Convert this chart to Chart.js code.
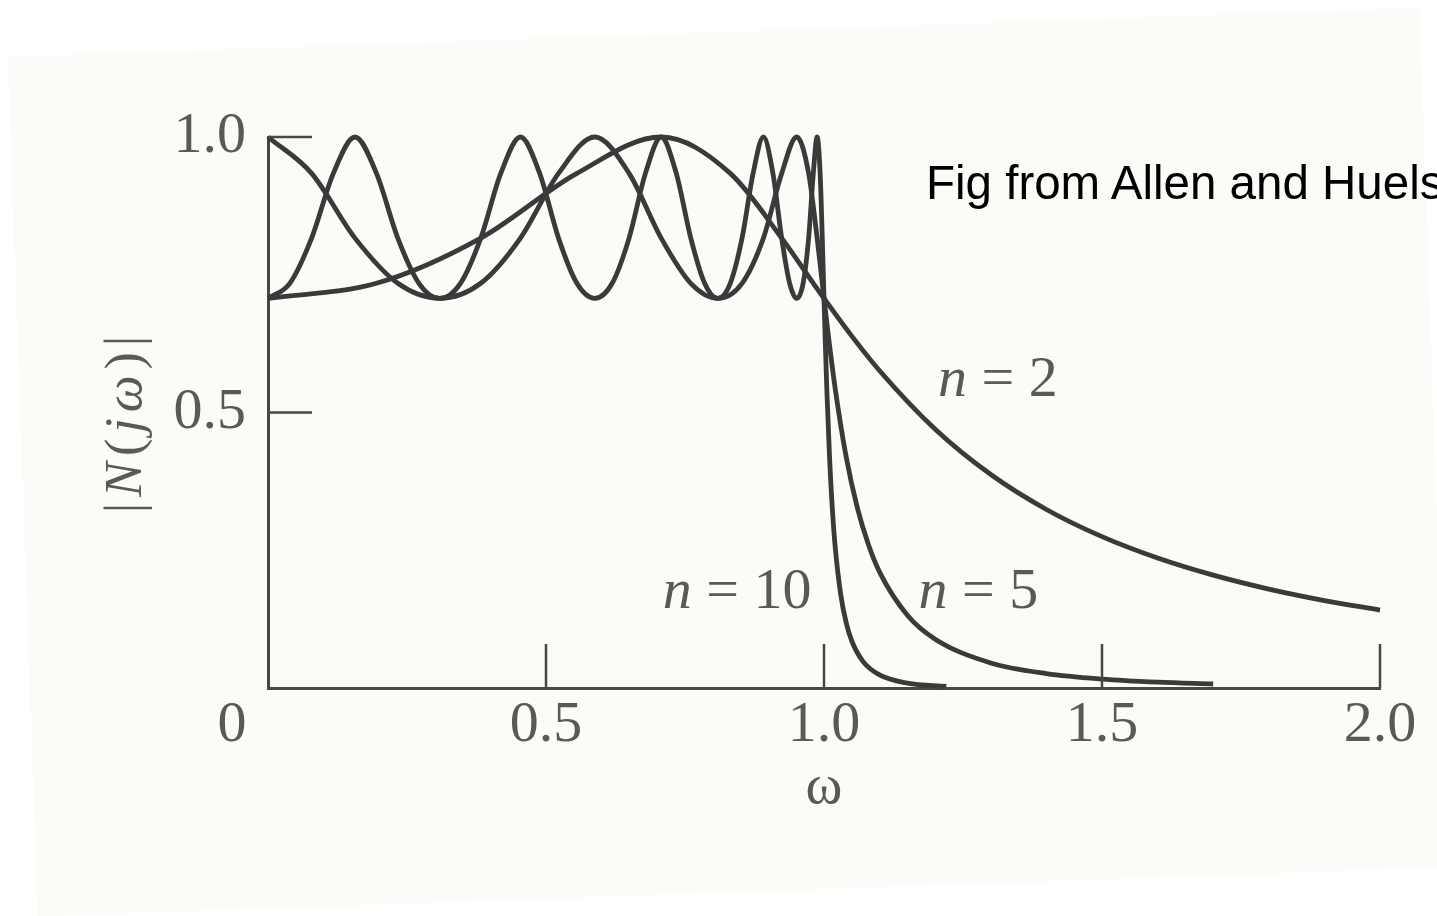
<!DOCTYPE html>
<html>
<head>
<meta charset="utf-8">
<script src="https://cdn.jsdelivr.net/npm/chart.js@4.4.0/dist/chart.umd.min.js"></script>
<style>
  html, body { margin: 0; padding: 0; background: #fff; overflow: hidden; }
  #page { position: relative; width: 1437px; height: 916px; overflow: hidden; }
  #paper { position: absolute; left: 8px; top: 57px; width: 1412px; height: 860px; background: #fbfbf7; transform: rotate(-2deg); transform-origin: 0 0; }
  #wrap { position: absolute; left: 0; top: 0; width: 1437px; height: 916px; }
  #note { position: absolute; left: 926px; top: 159px; font: 47.5px/1 "Liberation Sans", Arial, sans-serif; color: #000; white-space: nowrap; }
</style>
</head>
<body>
<div id="page">
  <div id="paper"></div>
  <div id="wrap"><canvas id="chart"></canvas></div>
  <div id="note">Fig from Allen and Huelsman</div>
</div>
<script>
    "use strict";

    // |N(jw)|, one pair of arrays per curve
    const n2W = [0, 0.19509, 0.38268, 0.55557, 0.70711, 0.83147, 0.92388, 0.98079, 1.0,
        1.05, 1.1, 1.2, 1.3, 1.4, 1.5, 1.6, 1.7, 1.8, 1.9, 2.0];
    const n2Mag = [0.7071, 0.7345, 0.8165, 0.9340, 1.0, 0.9340, 0.8165, 0.7345, 0.7071,
        0.6386, 0.5758, 0.4696, 0.3874, 0.3240, 0.2747, 0.2359, 0.2048, 0.1795, 0.1587, 0.1414];

    const n5W = [0, 0.07846, 0.15643, 0.23345, 0.30902, 0.38268, 0.45399, 0.52250, 0.58779,
        0.64945, 0.70711, 0.76041, 0.80902, 0.85264, 0.89101, 0.92388, 0.95106, 0.97237,
        0.98769, 0.99692, 1.0,
        1.005, 1.01, 1.02, 1.04, 1.06, 1.08, 1.1, 1.15, 1.2, 1.3, 1.4, 1.5, 1.6, 1.7];
    const n5Mag = [1.0, 0.9340, 0.8165, 0.7345, 0.7071, 0.7345, 0.8165, 0.9340, 1.0,
        0.9340, 0.8165, 0.7345, 0.7071, 0.7345, 0.8165, 0.9340, 1.0, 0.9340,
        0.8165, 0.7345, 0.7071,
        0.6636, 0.6215, 0.5444, 0.4187, 0.3269, 0.2599, 0.2103, 0.1321, 0.0886, 0.0455, 0.0262, 0.0163, 0.0107, 0.0073];

    const n10W = [0, 0.03926, 0.07846, 0.11754, 0.15643, 0.19509, 0.23345, 0.27144, 0.30902,
        0.34612, 0.38268, 0.41866, 0.45399, 0.48862, 0.52250, 0.55557, 0.58779, 0.61909,
        0.64945, 0.67880, 0.70711, 0.73432, 0.76041, 0.78532, 0.80902, 0.83147, 0.85264,
        0.87250, 0.89101, 0.90814, 0.92388, 0.93819, 0.95106, 0.96246, 0.97237, 0.98079,
        0.98769, 0.99307, 0.99692, 0.99923, 1.0,
        1.001, 1.002, 1.005, 1.01, 1.015, 1.02, 1.03, 1.04, 1.05, 1.07, 1.1, 1.15, 1.22];
    const n10Mag = [0.7071, 0.7345, 0.8165, 0.9340, 1.0, 0.9340, 0.8165, 0.7345,
        0.7071, 0.7345, 0.8165, 0.9340, 1.0, 0.9340, 0.8165, 0.7345,
        0.7071, 0.7345, 0.8165, 0.9340, 1.0, 0.9340, 0.8165, 0.7345,
        0.7071, 0.7345, 0.8165, 0.9340, 1.0, 0.9340, 0.8165, 0.7345,
        0.7071, 0.7345, 0.8165, 0.9340, 1.0, 0.9340, 0.8165, 0.7345,
        0.7071,
        0.6721, 0.6381, 0.5439, 0.4176, 0.3251, 0.2576, 0.1699, 0.1182, 0.0853, 0.0484, 0.0237, 0.0089, 0.0030];

    const xTicks = [0.5, 1.0, 1.5, 2.0];
    const yTicks = [0.5, 1.0];

    // where the "n = .." notes sit, in data units (left edge, baseline)
    const curveNotes = [
        { order: '2', x: 1.205, y: 0.53 },
        { order: '10', x: 0.71, y: 0.145 },
        { order: '5', x: 1.17, y: 0.145 }
    ];

    const ink = "#3a3a3a";
    const axisInk = "#474747";
    const textInk = "#595959";
    const serif = '"Liberation Serif", "Times New Roman", serif';

    function toPoints(ws, mags) {
        return ws.map((w, i) => ({ x: w, y: mags[i] }));
    }

    function curve(ws, mags) {
        return {
            data: toPoints(ws, mags),
            showLine: true,
            borderColor: ink,
            borderWidth: 4.8,
            pointRadius: 0,
            fill: false,
            cubicInterpolationMode: 'monotone',
            clip: false
        };
    }

    const figureMarks = {
        id: 'figureMarks',
        afterDraw(chart) {
            const ctx = chart.ctx;
            const x = chart.scales.x;
            const y = chart.scales.y;
            ctx.save();

            // tick marks point into the plot
            ctx.strokeStyle = axisInk;
            ctx.lineWidth = 2.5;
            xTicks.forEach(v => {
                const px = x.getPixelForValue(v);
                ctx.beginPath();
                ctx.moveTo(px, y.bottom);
                ctx.lineTo(px, y.bottom - 44);
                ctx.stroke();
            });
            yTicks.forEach(v => {
                const py = y.getPixelForValue(v);
                ctx.beginPath();
                ctx.moveTo(x.left, py);
                ctx.lineTo(x.left + 44, py);
                ctx.stroke();
            });

            // the lone "0" at the corner
            ctx.fillStyle = textInk;
            ctx.font = '58px ' + serif;
            ctx.textAlign = 'center';
            ctx.textBaseline = 'middle';
            ctx.fillText('0', x.getPixelForValue(0) - 36, y.bottom + 3 + 34.8);

            // n = .. notes
            ctx.textAlign = 'left';
            ctx.textBaseline = 'alphabetic';
            curveNotes.forEach(note => {
                let px = x.getPixelForValue(note.x);
                const py = y.getPixelForValue(note.y);
                ctx.font = 'italic 58px ' + serif;
                ctx.fillText('n', px, py);
                px += ctx.measureText('n').width;
                ctx.font = '58px ' + serif;
                ctx.fillText(' = ' + note.order, px, py);
            });

            // y title |N(jw)| with italic N and j
            const parts = [['|', false], ['N', true], ['(', false], ['j', true], ['\u03c9', true], [')', false], ['|', false]];
            const gap = 6;
            ctx.translate(x.left - 141, (y.top + y.bottom) / 2 + 12);
            ctx.rotate(-Math.PI / 2);
            let total = 0;
            parts.forEach(p => {
                ctx.font = (p[1] ? 'italic ' : '') + '52px ' + serif;
                total += ctx.measureText(p[0]).width;
            });
            total += gap * (parts.length - 1);
            let cx = -total / 2;
            ctx.textBaseline = 'middle';
            parts.forEach(p => {
                ctx.font = (p[1] ? 'italic ' : '') + '52px ' + serif;
                ctx.fillText(p[0], cx, 0);
                cx += ctx.measureText(p[0]).width + gap;
            });
            ctx.restore();
        }
    };

    const ctx = document.getElementById('chart').getContext('2d');
    const filterChart = new Chart(ctx, {
        type: 'scatter',
        data: {
            datasets: [curve(n2W, n2Mag), curve(n5W, n5Mag), curve(n10W, n10Mag)]
        },
        options: {
            responsive: true,
            maintainAspectRatio: false,
            animation: false,
            layout: { padding: { top: 137, right: 57, left: 0, bottom: 0 } },
            plugins: {
                legend: { display: false },
                tooltip: { enabled: false }
            },
            scales: {
                x: {
                    type: 'linear',
                    min: 0,
                    max: 2,
                    afterFit: s => { s.height = 228; },
                    afterBuildTicks: s => { s.ticks = xTicks.map(v => ({ value: v })); },
                    grid: { display: false, drawTicks: false },
                    border: { display: true, color: axisInk, width: 3 },
                    ticks: {
                        color: textInk,
                        font: { family: serif, size: 58 },
                        padding: 3,
                        maxRotation: 0,
                        autoSkip: false,
                        callback: v => Number(v).toFixed(1)
                    },
                    title: {
                        display: true,
                        text: '\u03c9',
                        color: textInk,
                        font: { family: serif, size: 56 },
                        padding: { top: 0, bottom: 94 }
                    }
                },
                y: {
                    type: 'linear',
                    min: 0,
                    max: 1,
                    afterFit: s => { s.width = 268; },
                    afterBuildTicks: s => { s.ticks = yTicks.map(v => ({ value: v })); },
                    grid: { display: false, drawTicks: false },
                    border: { display: true, color: axisInk, width: 3 },
                    ticks: {
                        color: textInk,
                        font: { family: serif, size: 58 },
                        padding: 22,
                        autoSkip: false,
                        callback: v => Number(v).toFixed(1)
                    }
                }
            }
        },
        plugins: [figureMarks]
    });
</script>
</body>
</html>
